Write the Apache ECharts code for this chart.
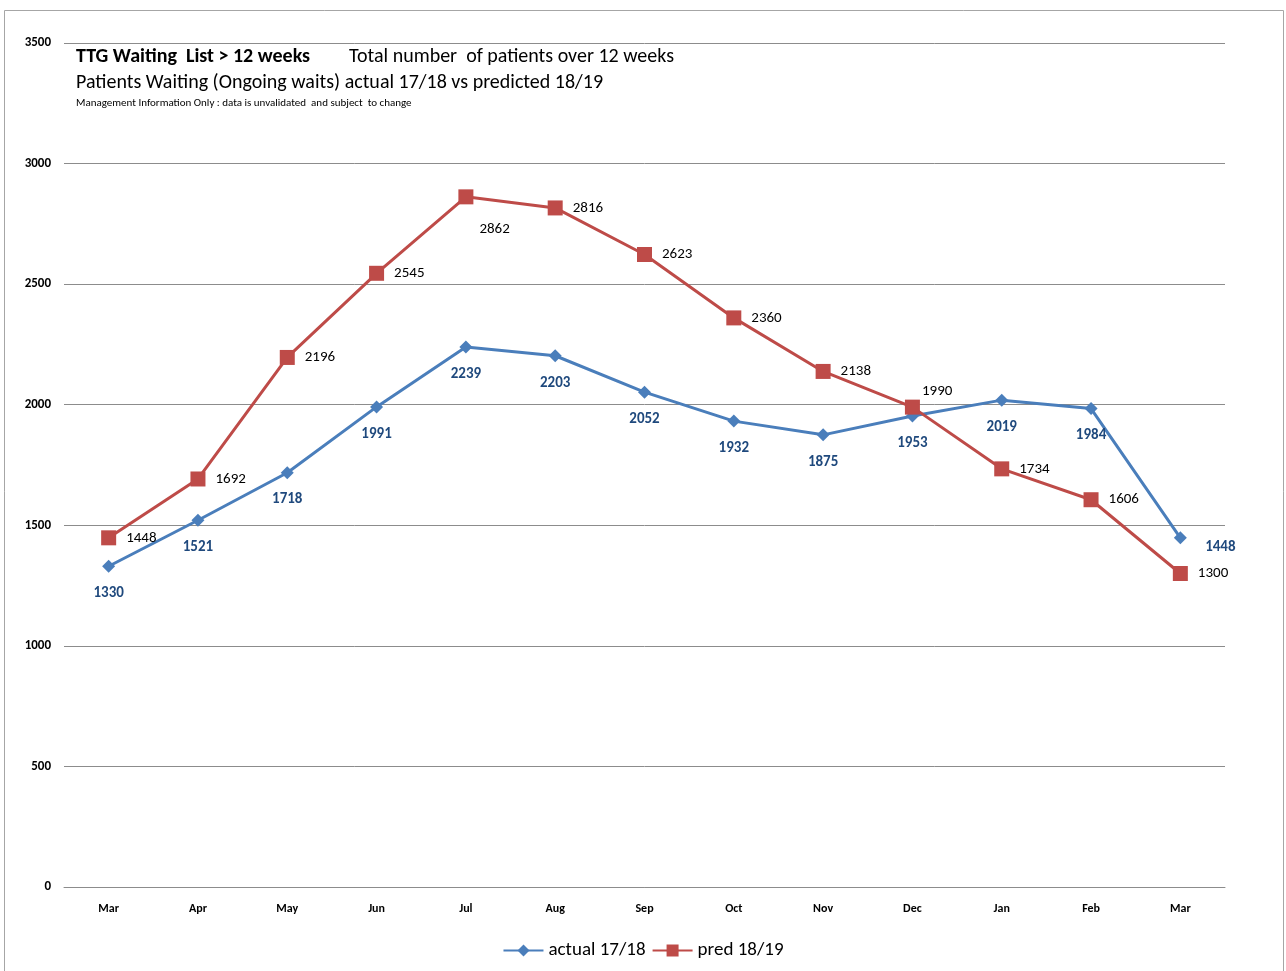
<!DOCTYPE html>
<html>
<head>
<meta charset="utf-8">
<script src="https://cdn.jsdelivr.net/npm/echarts@6/dist/echarts.min.js"></script>
<style>
  html, body { margin: 0; padding: 0; background: #fff; }
  #chart { width: 1286px; height: 971px; }
</style>
</head>
<body>
<div id="chart"></div>
<script>
// Monthly categories, March to March
const months = ['Mar', 'Apr', 'May', 'Jun', 'Jul', 'Aug', 'Sep', 'Oct', 'Nov', 'Dec', 'Jan', 'Feb', 'Mar'];
// Patients waiting over 12 weeks
const actual1718 = [1330, 1521, 1718, 1991, 2239, 2203, 2052, 1932, 1875, 1953, 2019, 1984, 1448];
const pred1819 = [1448, 1692, 2196, 2545, 2862, 2816, 2623, 2360, 2138, 1990, 1734, 1606, 1300];
// Value axis
const yTicks = [0, 500, 1000, 1500, 2000, 2500, 3000, 3500];

const FONT = 'Carlito, Lato, "Open Sans", sans-serif';

// Label placement tweaks for a few points
const predLabelOffset = { 4: [-4, 32], 9: [-8, -16] };
const actualLabelOffset = { 12: [40, -18] };

const chart = echarts.init(document.getElementById('chart'), null, { renderer: 'canvas' });

chart.setOption({
  animation: false,
  textStyle: { fontFamily: FONT },
  graphic: [
    {
      type: 'rect',
      shape: { x: 4.5, y: 10.5, width: 1279, height: 980 },
      style: { fill: 'none', stroke: '#a6a6a6', lineWidth: 1 },
      silent: true
    },
    {
      type: 'text', left: 76, top: 47,
      style: { text: 'TTG Waiting  List > 12 weeks', font: 'bold 20px ' + FONT, fill: '#000' }
    },
    {
      type: 'text', left: 349, top: 47,
      style: { text: 'Total number  of patients over 12 weeks', font: '20px ' + FONT, fill: '#000' }
    },
    {
      type: 'text', left: 76, top: 73,
      style: { text: 'Patients Waiting (Ongoing waits) actual 17/18 vs predicted 18/19', font: '20px ' + FONT, fill: '#000' }
    },
    {
      type: 'text', left: 76, top: 98,
      style: { text: 'Management Information Only : data is unvalidated  and subject  to change', font: '11px ' + FONT, fill: '#000' }
    }
  ],
  grid: { left: 64, right: 61, top: 43, bottom: 84, containLabel: false },
  legend: {
    bottom: 6,
    left: 'center',
    itemWidth: 40,
    itemHeight: 15,
    itemGap: 6,
    textStyle: { fontSize: 19, color: '#000', fontFamily: FONT },
    data: ['actual 17/18', 'pred 18/19']
  },
  xAxis: {
    type: 'category',
    data: months,
    boundaryGap: true,
    axisLine: { show: true, lineStyle: { color: '#8c8c8c', width: 1 } },
    axisTick: { show: false },
    axisLabel: { fontWeight: 'bold', fontSize: 12, color: '#000', margin: 16, fontFamily: FONT }
  },
  yAxis: {
    type: 'value',
    min: yTicks[0],
    max: yTicks[yTicks.length - 1],
    interval: 500,
    axisLine: { show: false },
    axisTick: { show: false },
    splitLine: { lineStyle: { color: '#8c8c8c', width: 1 } },
    axisLabel: {
      fontWeight: 'bold', fontSize: 13, color: '#000', margin: 13, fontFamily: FONT,
      formatter: v => String(v)
    }
  },
  series: [
    {
      name: 'actual 17/18',
      type: 'line',
      data: actual1718.map((v, i) => ({
        value: v,
        label: actualLabelOffset[i] ? { offset: actualLabelOffset[i] } : undefined
      })),
      symbol: 'diamond',
      symbolSize: 13,
      itemStyle: { color: '#4a7ebb' },
      lineStyle: { color: '#4a7ebb', width: 3 },
      z: 3,
      label: {
        show: true,
        position: 'bottom',
        distance: 13,
        fontWeight: 'bold',
        fontSize: 15,
        color: '#1f497d',
        fontFamily: FONT
      }
    },
    {
      name: 'pred 18/19',
      type: 'line',
      data: pred1819.map((v, i) => ({
        value: v,
        label: predLabelOffset[i] ? { offset: predLabelOffset[i] } : undefined
      })),
      symbol: 'rect',
      symbolSize: 15,
      itemStyle: { color: '#be4b48' },
      lineStyle: { color: '#be4b48', width: 3 },
      z: 4,
      label: {
        show: true,
        position: 'right',
        distance: 10,
        fontSize: 15,
        color: '#000',
        fontFamily: FONT
      }
    }
  ]
});
</script>
</body>
</html>
